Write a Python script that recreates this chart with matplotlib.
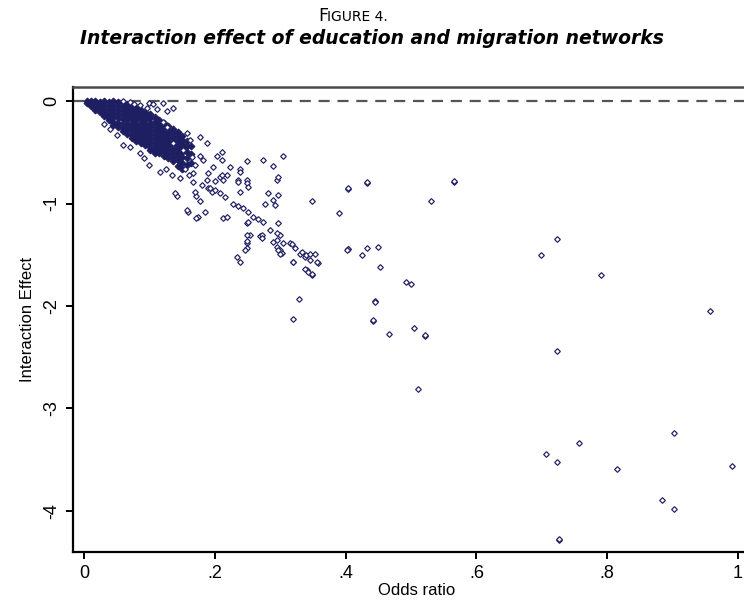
import matplotlib
matplotlib.use("Agg")
import matplotlib.pyplot as plt
from matplotlib import font_manager

# ---------------- data ----------------
# dense wedge near the origin, read column by column (odds ratio -> interaction effects)
dense_col_x = [0.004, 0.010, 0.017, 0.024, 0.031, 0.038, 0.045, 0.052, 0.059, 0.066,
               0.073, 0.080, 0.087, 0.094, 0.101, 0.108, 0.115, 0.122, 0.129, 0.136,
               0.143, 0.150, 0.157, 0.164]
dense_col_y = [
    [0.0, -0.02],
    [0.0, -0.03, -0.05],
    [0.0, -0.03, -0.06, -0.09],
    [-0.01, -0.04, -0.08, -0.11],
    [0.0, -0.04, -0.08, -0.12, -0.15],
    [-0.01, -0.05, -0.09, -0.13, -0.17, -0.19],
    [0.0, -0.04, -0.08, -0.12, -0.16, -0.20, -0.23],
    [-0.01, -0.05, -0.09, -0.13, -0.17, -0.21, -0.25],
    [-0.02, -0.06, -0.10, -0.14, -0.18, -0.22, -0.26, -0.29],
    [-0.03, -0.07, -0.11, -0.15, -0.19, -0.23, -0.27, -0.32],
    [-0.05, -0.09, -0.13, -0.17, -0.21, -0.25, -0.29, -0.33, -0.36],
    [-0.07, -0.11, -0.15, -0.19, -0.23, -0.27, -0.31, -0.35, -0.39],
    [-0.09, -0.13, -0.17, -0.21, -0.25, -0.29, -0.33, -0.37, -0.41],
    [-0.11, -0.15, -0.19, -0.23, -0.27, -0.31, -0.35, -0.39, -0.43],
    [-0.13, -0.17, -0.21, -0.25, -0.29, -0.33, -0.37, -0.41, -0.45, -0.48],
    [-0.16, -0.20, -0.24, -0.28, -0.32, -0.36, -0.40, -0.44, -0.48, -0.51],
    [-0.19, -0.23, -0.27, -0.31, -0.35, -0.39, -0.43, -0.47, -0.51],
    [-0.21, -0.25, -0.29, -0.33, -0.37, -0.41, -0.45, -0.49, -0.54],
    [-0.24, -0.28, -0.32, -0.36, -0.40, -0.44, -0.48, -0.52, -0.56],
    [-0.27, -0.31, -0.35, -0.39, -0.43, -0.47, -0.51, -0.55, -0.59],
    [-0.30, -0.34, -0.38, -0.42, -0.46, -0.50, -0.54, -0.58, -0.63],
    [-0.34, -0.38, -0.42, -0.46, -0.50, -0.55, -0.60, -0.66],
    [-0.39, -0.44, -0.50, -0.56, -0.62],
    [-0.44, -0.52, -0.60],
]

# individually visible observations
odds_ratio = [
    0.070, 0.086, 0.096, 0.100, 0.106, 0.121, 0.136, 0.060, 0.076, 0.111, 0.127, 0.121, 0.127,
    0.050, 0.060, 0.070, 0.086, 0.100, 0.116, 0.147, 0.167, 0.040, 0.030, 0.092, 0.125, 0.135,
    0.142, 0.159, 0.175, 0.185, 0.172, 0.177, 0.139, 0.157, 0.170, 0.172, 0.213, 0.218,
    0.136, 0.157, 0.162, 0.177, 0.188, 0.177, 0.182, 0.203, 0.167, 0.188, 0.197, 0.208, 0.223,
    0.211, 0.249, 0.274, 0.289, 0.305, 0.211, 0.239, 0.239, 0.236, 0.218, 0.249, 0.211, 0.213,
    0.236, 0.249, 0.251, 0.239, 0.282, 0.277, 0.289, 0.292, 0.295, 0.297, 0.297, 0.190, 0.195,
    0.180, 0.160, 0.155, 0.190, 0.200, 0.170, 0.165, 0.152,
    0.193, 0.200, 0.208, 0.215, 0.228, 0.235, 0.243, 0.250, 0.259, 0.266, 0.274, 0.284, 0.300,
    0.315, 0.330, 0.346, 0.358, 0.322, 0.338,
    0.249, 0.254, 0.249, 0.234, 0.239, 0.269, 0.295, 0.295, 0.305, 0.320, 0.341, 0.348, 0.297,
    0.295, 0.272, 0.272, 0.249, 0.249, 0.249, 0.246, 0.289, 0.302, 0.300, 0.318, 0.320, 0.333,
    0.340, 0.346, 0.353, 0.357, 0.338, 0.343, 0.348, 0.329, 0.320, 0.297, 0.300, 0.251,
    0.432, 0.404, 0.565, 0.348, 0.531, 0.390, 0.724, 0.699, 0.404, 0.432, 0.425, 0.449, 0.452,
    0.791, 0.493, 0.500, 0.445, 0.957, 0.442, 0.467, 0.504, 0.522, 0.724, 0.510, 0.706, 0.724,
    0.757, 0.902, 0.815, 0.991, 0.884, 0.902, 0.726,
    0.404, 0.442, 0.565, 0.522, 0.726, 0.432, 0.404, 0.402, 0.445,
]
interaction_effect = [
    -0.01, -0.04, -0.07, -0.02, -0.03, -0.02, -0.07, 0.00, -0.03, -0.08, -0.10, -0.20, -0.25,
    -0.33, -0.43, -0.45, -0.51, -0.62, -0.69, -0.75, -0.79, -0.27, -0.22, -0.56, -0.66, -0.72,
    -0.93, -1.08, -1.13, -1.08, -0.93, -0.98, -0.90, -1.06, -0.89, -1.14, -1.14, -1.13,
    -0.41, -0.31, -0.38, -0.35, -0.41, -0.54, -0.58, -0.54, -0.70, -0.77, -0.64, -0.74, -0.64,
    -0.50, -0.59, -0.58, -0.63, -0.54, -0.58, -0.66, -0.69, -0.77, -0.72, -0.77, -0.72, -0.77,
    -0.79, -0.80, -0.84, -0.89, -0.90, -1.00, -0.97, -1.01, -0.77, -0.74, -0.92, -0.85, -0.89,
    -0.82, -0.72, -0.66, -0.70, -0.78, -0.62, -0.55, -0.48,
    -0.85, -0.87, -0.90, -0.94, -1.00, -1.02, -1.04, -1.08, -1.13, -1.15, -1.18, -1.26, -1.31,
    -1.39, -1.49, -1.55, -1.58, -1.43, -1.52,
    -1.19, -1.31, -1.39, -1.52, -1.57, -1.32, -1.36, -1.42, -1.39, -1.57, -1.65, -1.70, -1.19,
    -1.29, -1.31, -1.34, -1.31, -1.37, -1.43, -1.45, -1.38, -1.48, -1.45, -1.40, -1.57, -1.47,
    -1.50, -1.49, -1.49, -1.57, -1.64, -1.67, -1.69, -1.93, -2.13, -1.45, -1.49, -1.18,
    -0.80, -0.86, -0.79, -0.976, -0.976, -1.096, -1.35, -1.505, -1.447, -1.437, -1.50, -1.424, -1.62,
    -1.70, -1.77, -1.79, -1.95, -2.05, -2.15, -2.27, -2.21, -2.29, -2.44, -2.81, -3.44, -3.52,
    -3.34, -3.24, -3.59, -3.56, -3.89, -3.98, -4.28,
    -1.44, -2.14, -0.78, -2.28, -4.27, -0.79, -0.85, -1.45, -1.96,
]

x_ticks = [0, 0.2, 0.4, 0.6, 0.8, 1.0]
x_tick_labels = ["0", ".2", ".4", ".6", ".8", "1"]
y_ticks = [0, -1, -2, -3, -4]
y_tick_labels = ["0", "-1", "-2", "-3", "-4"]

# ---------------- figure ----------------
W, H = 744, 604
fig = plt.figure(figsize=(W / 100, H / 100), dpi=100)

names = {f.name for f in font_manager.fontManager.ttflist}
tick_family = ["Liberation Sans Narrow"] if "Liberation Sans Narrow" in names else ["Liberation Sans"]

ax_left, ax_right, ax_top, ax_bottom = 73, 760, 87, 552
ax = fig.add_axes([ax_left / W, 1 - ax_bottom / H, (ax_right - ax_left) / W, (ax_bottom - ax_top) / H])

px_per_x = 654.0
px_per_y = 102.5
x0_px = 84
y0_px = 101
ax.set_xlim((ax_left - x0_px) / px_per_x, (ax_right - x0_px) / px_per_x)
ax.set_ylim(-(ax_bottom - y0_px) / px_per_y, (y0_px - ax_top) / px_per_y)

navy = "#1e1e62"
ax.axhline(0, color="#555555", lw=1.6, ls=(0, (5, 3.5)), zorder=1)

dense_x = []
dense_y = []
for cx, ys in zip(dense_col_x, dense_col_y):
    for yv in ys:
        dense_x.append(cx)
        dense_y.append(yv)

mk = dict(marker="D", ms=2.9, mfc="white", mec=navy, mew=0.85, ls="none", zorder=3)
ax.plot(dense_x, dense_y, **{**mk, "mfc": navy, "ms": 3.4})
ax.plot(odds_ratio, interaction_effect, **mk)

for s in ["left", "bottom"]:
    ax.spines[s].set_linewidth(1.6)
    ax.spines[s].set_color("black")
ax.spines["top"].set_linewidth(1.8)
ax.spines["top"].set_color("#4a4a4a")
ax.spines["right"].set_visible(False)

ax.set_xticks(x_ticks)
ax.set_xticklabels(x_tick_labels, family=tick_family, fontsize=13)
ax.set_yticks(y_ticks)
ax.set_yticklabels(y_tick_labels, family=tick_family, fontsize=13, rotation=90, va="center")
ax.tick_params(axis="both", direction="out", length=5, width=1.4, color="black", pad=4)

ax.set_xlabel("Odds ratio", family=tick_family, fontsize=12, labelpad=1)
ax.set_ylabel("Interaction Effect", family=tick_family, fontsize=12, labelpad=6)

# title: small-caps "FIGURE 4." then bold italic title
fig.text(0.4275, 1 - 21 / H, "F", fontsize=12.5, family="DejaVu Sans", ha="left", va="baseline")
fig.text(0.4275 + 8.6 / W, 1 - 21 / H, "IGURE 4.", fontsize=10, family="DejaVu Sans",
         ha="left", va="baseline")
fig.text(0.5, 1 - 44 / H, "Interaction effect of education and migration networks",
         fontsize=13.5, family="DejaVu Sans", weight="bold", style="italic",
         ha="center", va="baseline")

fig.savefig("out.png", dpi=100)
